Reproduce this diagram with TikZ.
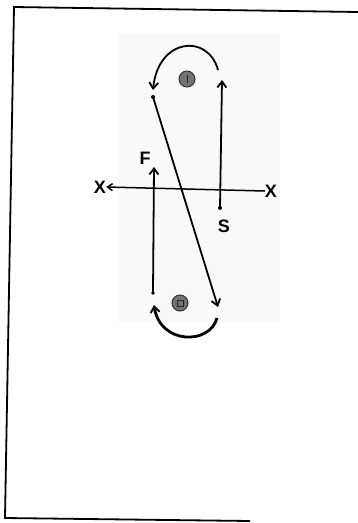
\documentclass[tikz,border=0pt]{standalone}
\usepackage{fontspec}
\setsansfont{Liberation Sans}
\usetikzlibrary{arrows.meta}
\begin{document}
\begin{tikzpicture}[x=1pt,y=-1pt,
  lbl/.style={font=\sffamily\bfseries\fontsize{18}{18}\selectfont, inner sep=0pt},
  mv/.style={line width=1.8pt, -{Straight Barb[length=6pt,width=9pt,line width=1.8pt]}},
  disc/.style={circle, fill=black!55, draw=black!80, line width=1pt, minimum size=16pt, inner sep=0pt},
  frame/.style={line width=1.8pt}]
\useasboundingbox (0,0) rectangle (358,523);
\fill[black!2.5] (118,33) rectangle (280,322);
% frame
\coordinate (tl) at (14,7);
\coordinate (tr) at (358,12);
\coordinate (bl) at (5,518);
\coordinate (br) at (250,521);
\draw[frame] (tr) -- (tl) -- (bl) -- (br);
% discs
\node[disc] (d1) at (187,79) {};
\node[disc] (d2) at (180,303) {};
\draw[black!85, line width=0.7pt] (d1.center) ++(0,-4) -- ++(0,8);
\draw[black!85, line width=0.7pt] (d2.center) ++(-3,-3) rectangle ++(6,6);
% axis
\node[lbl] (xl) at (100,187) {X};
\node[lbl] (xr) at (271,191) {X};
\draw[line width=1.5pt, -{Straight Barb[length=5pt,width=7pt,line width=1.5pt]}] (xr.west) -- (xl.east);
% labels
\node[lbl] (F) at (145,158) {F};
\node[lbl] (S) at (224,226) {S};
% points
\coordinate (s0) at (220,208);
\coordinate (s1) at (222,80);
\coordinate (a0) at (218,70);
\coordinate (a1) at (153,90);
\coordinate (g0) at (153,97);
\coordinate (g1) at (218,307);
\coordinate (b0) at (217,318);
\coordinate (b1) at (154,305);
\coordinate (f0) at (153,293);
\coordinate (f1) at (154,167);
\fill (s0) circle (2pt);
\fill (g0) circle (2pt);
\fill (f0) circle (1.8pt);
% moves
\draw[mv] (s0) -- (s1);
\draw[mv] (a0) .. controls (208,33) and (158,38) .. (a1);
\draw[mv] (g0) -- (g1);
\draw[mv, line width=2.8pt] (b0) .. controls (210,345) and (160,345) .. (b1);
\draw[mv] (f0) -- (f1);
\end{tikzpicture}
\end{document}
